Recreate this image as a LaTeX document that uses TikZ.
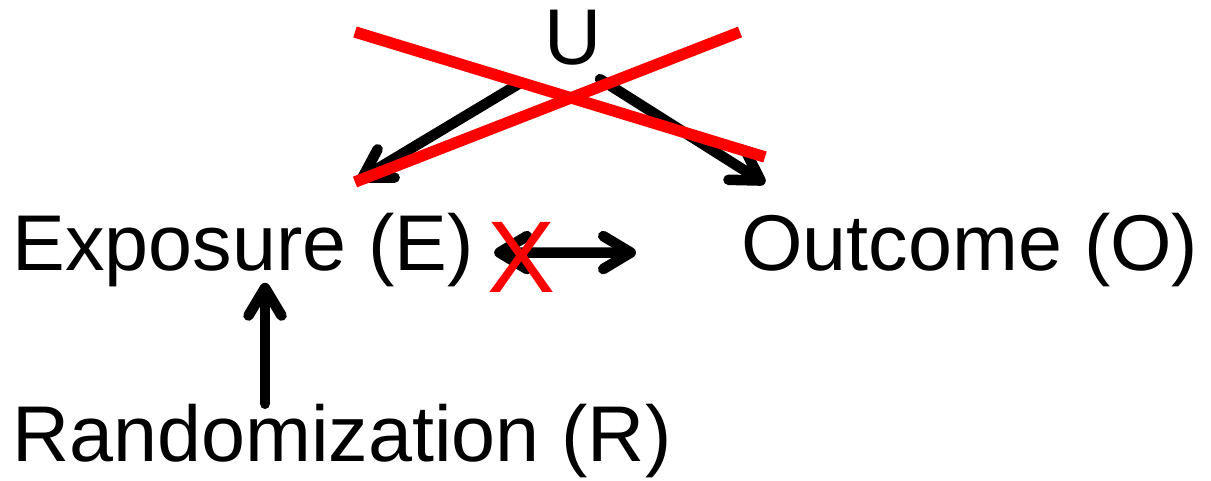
\documentclass[tikz,border=0pt]{standalone}
\usepackage{fontspec}
\setmainfont{Liberation Sans}
\usepackage{tikz}
\usetikzlibrary{positioning,arrows.meta}

\begin{document}
\begin{tikzpicture}[
        lbl/.style    = {inner sep=0pt, font=\fontsize{45}{54}\selectfont},
        barb/.tip     = {Straight Barb[length=5.5mm, width=6.6mm, round]},
        arr/.style    = {line width=6pt, line cap=round},
        strike/.style = {red, line width=6.5pt},
        cross/.style  = {inner sep=0pt, red, font=\fontsize{58}{66}\selectfont}
    ]
        \useasboundingbox (0,0) rectangle (24.22,9.6);
        % variables
        \node[lbl, anchor=base west] (E) at (0.24,4.2)  {Exposure (E)};
        \node[lbl, anchor=base west] (O) at (14.82,4.2) {Outcome (O)};
        \node[lbl, anchor=base]      (U) at (11.46,8.32) {U};
        \node[lbl, below=2.34cm of E.south west, anchor=north west] (R) {Randomization (R)};
        % paths
        \draw[arr, -barb] ([shift={(-1.06,-0.36)}]U.south) -- ([shift={(6.92,0.64)}]E.north west);
        \draw[arr, -barb] ([shift={(0.54,-0.28)}]U.south)  -- ([shift={(0.48,0.58)}]O.north west);
        \draw[arr, -barb] ([xshift=5.06cm]R.north west)   -- ([xshift=5.06cm,yshift=0.08cm]E.south west);
        \draw[arr, barb-barb]
            ([shift={(0.4,-0.06)}]E.east) -- node[cross, pos=0.19, yshift=-0.1cm] (nx) {X}
            ([shift={(-2.1,-0.06)}]O.west);
        % U crossed out
        \coordinate (s1a) at (7.1,8.96);  \coordinate (s1b) at (15.3,6.46);
        \coordinate (s2a) at (7.1,5.96);  \coordinate (s2b) at (14.8,8.96);
        \draw[strike] (s1a) -- (s1b);
        \draw[strike] (s2a) -- (s2b);
    \end{tikzpicture}
\end{document}
